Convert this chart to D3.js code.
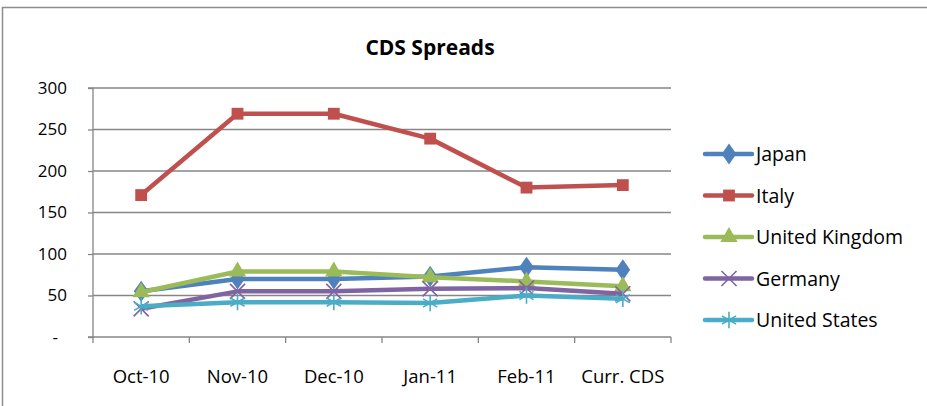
<!DOCTYPE html>
<html>
<head>
<meta charset="utf-8">
<script src="https://cdn.jsdelivr.net/npm/d3@7"></script>
<style>
  body { margin: 0; background: #fff; }
  text { font-family: "Open Sans", "Noto Sans", sans-serif; fill: #000; }
</style>
</head>
<body>
<div id="chart"></div>
<script>
var categories = ["Oct-10", "Nov-10", "Dec-10", "Jan-11", "Feb-11", "Curr. CDS"];
var seriesNames = ["Japan", "Italy", "United Kingdom", "Germany", "United States"];
var japan = [55, 70, 70, 73, 84, 81];
var italy = [171, 269, 269, 239, 180, 183];
var unitedKingdom = [54, 79, 79, 72, 67, 61];
var germany = [34, 55, 55, 58, 59, 52];
var unitedStates = [37, 42, 42, 41, 50, 46];
var yTicks = [0, 50, 100, 150, 200, 250, 300];

var attrs = {
  width: 927,
  height: 406,
  plot: { left: 93, right: 671, top: 88, bottom: 337 },
  colors: ["#4F81BD", "#C0504D", "#9BBB59", "#8064A2", "#4BACC6"],
  symbols: [d3.symbolDiamond, d3.symbolSquare, d3.symbolTriangle, d3.symbolX, d3.symbolAsterisk],
  symbolSizes: [130, 140, 130, 150, 190],
  grid: "#868686"
};

var series = [japan, italy, unitedKingdom, germany, unitedStates].map(function (values, i) {
  return { name: seriesNames[i], values: values, color: attrs.colors[i], symbol: attrs.symbols[i], size: attrs.symbolSizes[i] };
});

var svg = d3.select("#chart").append("svg")
  .attr("width", attrs.width)
  .attr("height", attrs.height);

// outer chart border (runs off the right and bottom edges)
svg.append("rect")
  .attr("x", 2.5).attr("y", 7.5)
  .attr("width", 960).attr("height", 440)
  .attr("fill", "none").attr("stroke", "#8c8c8c").attr("stroke-width", 1.5);

var x = d3.scaleBand().domain(categories).range([attrs.plot.left, attrs.plot.right]);
var y = d3.scaleLinear().domain([0, 300]).range([attrs.plot.bottom, attrs.plot.top]);

// title
svg.append("text")
  .attr("x", 430).attr("y", 55)
  .attr("text-anchor", "middle")
  .attr("font-size", 21).attr("font-weight", "bold")
  .text("CDS Spreads");

// gridlines
svg.append("g").selectAll("line")
  .data(yTicks.slice(1))
  .join("line")
  .attr("x1", attrs.plot.left).attr("x2", attrs.plot.right)
  .attr("y1", function (d) { return y(d); }).attr("y2", function (d) { return y(d); })
  .attr("stroke", attrs.grid).attr("stroke-width", 1.3);

// y axis
var yAxis = svg.append("g")
  .attr("transform", "translate(" + attrs.plot.left + ",0)")
  .call(d3.axisLeft(y).tickValues(yTicks).tickSize(5).tickPadding(21)
    .tickFormat(function (d) { return d === 0 ? "-" : d; }));
yAxis.selectAll("text").attr("font-size", 17).attr("font-family", "Open Sans, sans-serif");
yAxis.selectAll("line, path").attr("stroke", attrs.grid).attr("stroke-width", 1.3);
yAxis.select(".domain").attr("d", "M-5," + y(300) + "H0V" + y(0) + "H-5");
yAxis.selectAll(".tick").filter(function (d) { return d === 0; }).select("text").attr("dx", -9);

// x axis, ticks between categories
var xAxis = svg.append("g")
  .attr("transform", "translate(0," + attrs.plot.bottom + ")");
xAxis.append("line")
  .attr("x1", attrs.plot.left).attr("x2", attrs.plot.right)
  .attr("stroke", attrs.grid).attr("stroke-width", 1.3);
xAxis.selectAll(".xtick")
  .data(d3.range(categories.length + 1))
  .join("line")
  .attr("class", "xtick")
  .attr("x1", function (i) { return attrs.plot.left + i * x.bandwidth(); })
  .attr("x2", function (i) { return attrs.plot.left + i * x.bandwidth(); })
  .attr("y1", 0).attr("y2", 6)
  .attr("stroke", attrs.grid).attr("stroke-width", 1.3);
xAxis.selectAll(".xlabel")
  .data(categories)
  .join("text")
  .attr("class", "xlabel")
  .attr("x", function (d) { return x(d) + x.bandwidth() / 2; })
  .attr("y", 46)
  .attr("text-anchor", "middle")
  .attr("font-size", 18.5)
  .text(function (d) { return d; });

// lines and markers
var line = d3.line()
  .x(function (d, i) { return x(categories[i]) + x.bandwidth() / 2; })
  .y(function (d) { return y(d); });

var seriesG = svg.append("g").selectAll("g")
  .data(series)
  .join("g");

seriesG.append("path")
  .attr("d", function (s) { return line(s.values); })
  .attr("fill", "none")
  .attr("stroke", function (s) { return s.color; })
  .attr("stroke-width", 4.5)
  .attr("stroke-linejoin", "round");

function drawMarker(sel, s, px, py) {
  var stroked = s.symbol === d3.symbolX || s.symbol === d3.symbolAsterisk;
  sel.append("path")
    .attr("transform", "translate(" + px + "," + py + ")" + (s.symbol === d3.symbolDiamond ? " scale(1.2,1)" : ""))
    .attr("d", d3.symbol(s.symbol, s.size)())
    .attr("fill", stroked ? "none" : s.color)
    .attr("stroke", s.color)
    .attr("stroke-width", stroked ? 1.6 : 0);
}

seriesG.each(function (s) {
  var g = d3.select(this);
  s.values.forEach(function (v, i) {
    drawMarker(g, s, x(categories[i]) + x.bandwidth() / 2, y(v));
  });
});

// legend
var legend = svg.append("g").selectAll("g")
  .data(series)
  .join("g")
  .attr("transform", function (s, i) { return "translate(705," + (154 + i * 41.5) + ")"; });

legend.append("line")
  .attr("x1", 0).attr("x2", 47)
  .attr("stroke", function (s) { return s.color; })
  .attr("stroke-width", 4.5)
  .attr("stroke-linecap", "round");

legend.each(function (s) {
  drawMarker(d3.select(this), s, 24, 0);
});

legend.append("text")
  .attr("x", 51).attr("y", 7)
  .attr("font-size", 19.5)
  .text(function (s) { return s.name; });
</script>
</body>
</html>
